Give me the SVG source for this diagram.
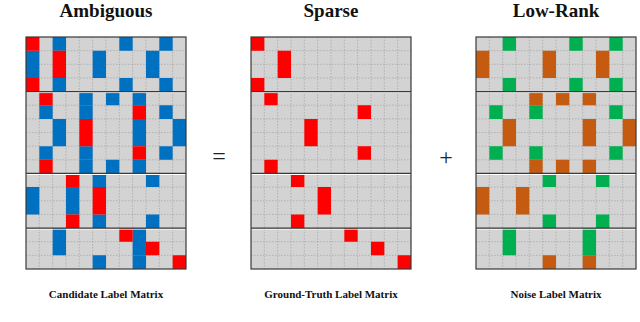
<svg xmlns="http://www.w3.org/2000/svg" xmlns:xlink="http://www.w3.org/1999/xlink" width="640" height="322" viewBox="0 0 640 322">
<style>
.title{font-family:"Liberation Serif",serif;font-weight:bold;font-size:19px;fill:#111;text-anchor:middle}
.cap{font-family:"Liberation Serif",serif;font-weight:bold;font-size:11px;fill:#111;text-anchor:middle}
.op{font-family:"Liberation Serif",serif;font-size:24px;fill:#222;text-anchor:middle}
.gridl{stroke:#9a9a9a;stroke-width:0.6;stroke-dasharray:1.5 1.5;fill:none}
.sep{stroke:#3a3a3a;stroke-width:1.3;fill:none}
.sepw{stroke:#fff;stroke-width:1;fill:none}
.border{stroke:#3a3a3a;stroke-width:1.2;fill:none}
</style>
<defs>
<g id="grid">
<rect x="0" y="0" width="160" height="232" fill="#d3d3d3"/>
<path class="gridl" d="M13.33 0V232M26.67 0V232M40 0V232M53.33 0V232M66.67 0V232M80 0V232M93.33 0V232M106.67 0V232M120 0V232M133.33 0V232M146.67 0V232M0 13.65H160M0 27.29H160M0 40.94H160M0 68.24H160M0 81.88H160M0 95.53H160M0 109.18H160M0 122.82H160M0 150.12H160M0 163.76H160M0 177.41H160M0 204.71H160M0 218.35H160"/>
</g>
<g id="frame">
<path class="sepw" d="M0 55.6H160M0 137.5H160M0 192.1H160"/>
<path class="sep" d="M0 54.59H160M0 136.47H160M0 191.06H160"/>
<rect class="border" x="0" y="0" width="160" height="232"/>
</g>
<path id="pRed" d="M0 0h1v1h-1zM2 1h1v2h-1zM0 3h1v1h-1zM1 4h1v1h-1zM8 5h1v1h-1zM4 6h1v2h-1zM8 8h1v1h-1zM1 9h1v1h-1zM3 10h1v1h-1zM5 11h1v2h-1zM3 13h1v1h-1zM7 14h1v1h-1zM9 15h1v1h-1zM11 16h1v1h-1z"/>
<path id="pGreen" d="M2 0h1v1h-1zM7 0h1v1h-1zM10 0h1v1h-1zM2 3h1v1h-1zM7 3h1v1h-1zM10 3h1v1h-1zM1 5h1v1h-1zM4 5h1v1h-1zM10 5h1v1h-1zM1 8h1v1h-1zM4 8h1v1h-1zM10 8h1v1h-1zM5 10h1v1h-1zM9 10h1v1h-1zM5 13h1v1h-1zM9 13h1v1h-1zM2 14h1v2h-1zM8 14h1v2h-1z"/>
<path id="pOrange" d="M0 1h1v2h-1zM5 1h1v2h-1zM9 1h1v2h-1zM4 4h1v1h-1zM6 4h1v1h-1zM8 4h1v1h-1zM2 6h1v2h-1zM8 6h1v2h-1zM11 6h1v2h-1zM4 9h1v1h-1zM6 9h1v1h-1zM8 9h1v1h-1zM0 11h1v2h-1zM3 11h1v2h-1zM5 16h1v1h-1zM8 16h1v1h-1z"/>
</defs>

<g id="ambiguous">
<text class="title" x="106" y="17">Ambiguous</text>
<g transform="translate(26,37)">
<use xlink:href="#grid"/>
<g transform="scale(13.3333,13.647)">
<use xlink:href="#pGreen" fill="#0070c0"/>
<use xlink:href="#pOrange" fill="#0070c0"/>
<use xlink:href="#pRed" fill="#ff0000"/>
</g>
<use xlink:href="#frame"/>
</g>
<text class="cap" x="106" y="298">Candidate Label Matrix</text>
</g>

<g id="sparse">
<text class="title" x="331" y="17">Sparse</text>
<g transform="translate(251,37)">
<use xlink:href="#grid"/>
<g transform="scale(13.3333,13.647)">
<use xlink:href="#pRed" fill="#ff0000"/>
</g>
<use xlink:href="#frame"/>
</g>
<text class="cap" x="331" y="298">Ground-Truth Label Matrix</text>
</g>

<g id="lowrank">
<text class="title" x="556" y="17">Low-Rank</text>
<g transform="translate(476,37)">
<use xlink:href="#grid"/>
<g transform="scale(13.3333,13.647)">
<use xlink:href="#pGreen" fill="#00b050"/>
<use xlink:href="#pOrange" fill="#c55a11"/>
</g>
<use xlink:href="#frame"/>
</g>
<text class="cap" x="556" y="298">Noise Label Matrix</text>
</g>

<g id="operators">
<text class="op" x="219" y="164">=</text>
<text class="op" x="446" y="165">+</text>
</g>
</svg>
